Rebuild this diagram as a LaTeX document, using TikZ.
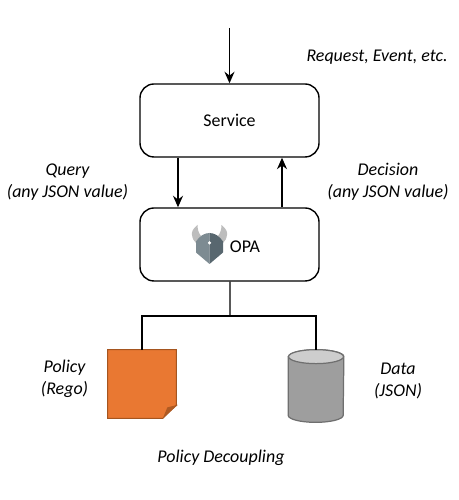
\documentclass[tikz,border=0pt]{standalone}
\usepackage{fontspec}
\setmainfont{Carlito}
\usetikzlibrary{arrows.meta, calc, positioning}
\definecolor{sheetorange}{HTML}{E97832}
\definecolor{sheetedge}{HTML}{A5551F}
\definecolor{drumgray}{HTML}{9E9E9E}
\definecolor{drumtop}{HTML}{CDCDCD}
\definecolor{drumedge}{HTML}{6F6F6F}
\definecolor{hornc}{HTML}{BDBDBD}
\definecolor{shieldl}{HTML}{7D8B92}
\definecolor{shieldr}{HTML}{58676F}
\tikzset{
    mainbox/.style={draw, line width=0.8pt, rounded corners=0.28cm, minimum width=3.58cm, minimum height=1.46cm, font=\fontsize{10.2}{12}\selectfont},
    lbl/.style={align=center, font=\fontsize{10.2}{12.4}\selectfont\itshape},
    link/.style={line width=0.8pt}
}
\begin{document}
\begin{tikzpicture}[>={Stealth[length=2.3mm,width=2mm]}]

        \useasboundingbox (0,0) rectangle (9.16,10);

        % Draw the two boxes
        \node[mainbox] (service) at (4.59,7.59) {Service};
        \node[mainbox] (opa) at (4.59,5.11) {};
        \node[font=\fontsize{10.2}{12}\selectfont] (opatext) at (4.90,5.07) {OPA};

        % Draw the logo
        \coordinate (logo) at (4.19,5.10);
        \foreach \side in {-1,1} {
            \fill[hornc, shift={(logo)}, xscale=\side] (-.24,.40) .. controls (-.34,.32) and (-.36,.26) .. (-.35,.20) .. controls (-.34,.12) and (-.31,.08) .. (-.27,.04) -- (-.17,.18) .. controls (-.22,.24) and (-.24,.32) .. (-.24,.40) -- cycle;
        }
        \fill[shieldl, shift={(logo)}] (0,.24) .. controls (-.1,.24) and (-.2,.18) .. (-.27,.07) -- (-.27,-.15) -- (0,-.38) -- cycle;
        \fill[shieldr, shift={(logo)}] (0,.24) .. controls (.1,.24) and (.2,.18) .. (.27,.07) -- (.27,-.15) -- (0,-.38) -- cycle;
        \fill[white, shift={(logo)}] (0,.04) circle (.035);

        % Draw the two stores
        \node[minimum width=1.36cm, minimum height=1.36cm, inner sep=0pt] (policy) at (2.84,2.32) {};
        \fill[sheetorange, draw=sheetedge, line width=0.5pt] (policy.north west) -- (policy.north east) -- ($(policy.south east)+(0,.27)$) -- ($(policy.south east)+(-.27,0)$) -- (policy.south west) -- cycle;
        \fill[sheetedge!85!sheetorange] ($(policy.south east)+(.03,.27)$) -- ($(policy.south east)+(-.27,0)$) -- ($(policy.south east)+(-.18,.22)$) -- cycle;

        \node[minimum width=1.10cm, minimum height=1.44cm, inner sep=0pt] (data) at (6.32,2.28) {};
        \filldraw[fill=drumgray, draw=drumedge, line width=0.7pt] ($(data.north west)+(0,-.14)$) -- ($(data.south west)+(0,.14)$) arc[start angle=180, end angle=360, x radius=.55, y radius=.14] -- ($(data.north east)+(0,-.14)$) arc[start angle=0, end angle=180, x radius=.55, y radius=.14] -- cycle;
        \filldraw[fill=drumtop, draw=drumedge, line width=0.7pt] ($(data.north)+(0,-.14)$) ellipse[x radius=.55, y radius=.14];

        % Arrows connecting the boxes
        \coordinate (start) at (4.59,9.44);
        \coordinate (bus) at (4.60,3.68);
        \draw[->, link] (start) -- (service.north);
        \draw[->, link] ([xshift=-1.03cm]service.south) -- ([xshift=-1.03cm]opa.north);
        \draw[->, link] ([xshift=1.05cm]opa.north) -- ([xshift=1.05cm]service.south);
        \draw[-, link] ([xshift=.01cm]opa.south) -- (bus);
        \draw[-, link] (policy.north) |- (bus) -| (data.north);

        % Labels
        \node[lbl] (reqlabel) at (7.54,8.85) {Request, Event, etc.};
        \node[lbl] (querylabel) at (1.35,6.36) {Query\\(any JSON value)};
        \node[lbl] (decisionlabel) at (7.76,6.37) {Decision\\(any JSON value)};
        \node[lbl] (policylabel) at (1.29,2.42) {Policy\\(Rego)};
        \node[lbl] (datalabel) at (7.96,2.38) {Data\\(JSON)};
        \node[lbl] (caption) at (4.42,0.84) {Policy Decoupling};
    \end{tikzpicture}
\end{document}
